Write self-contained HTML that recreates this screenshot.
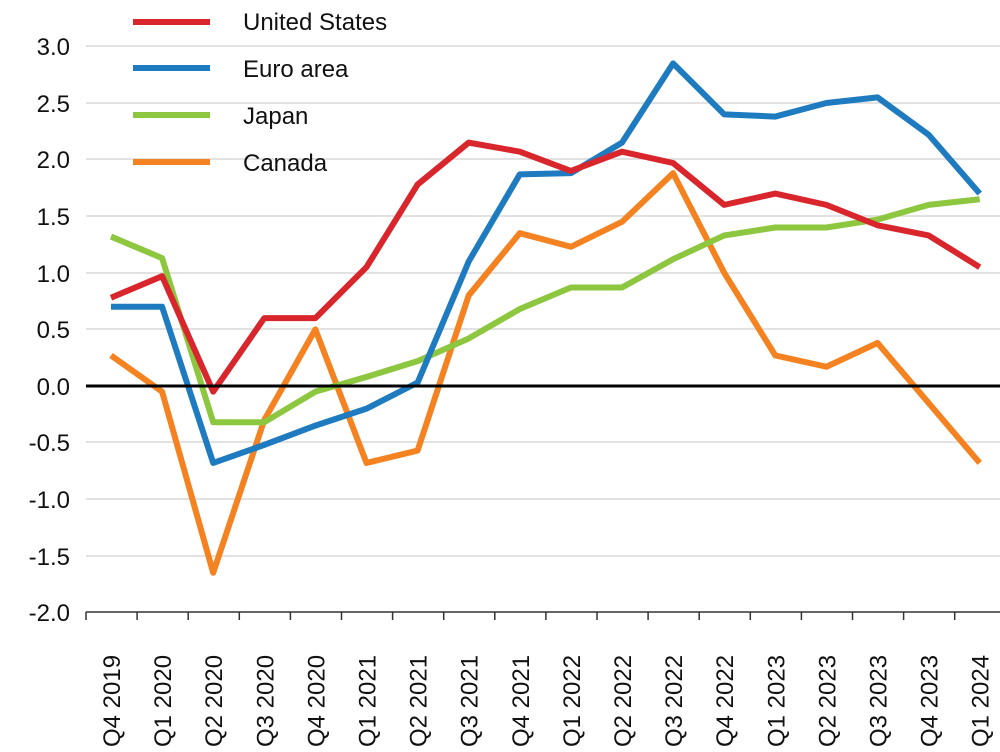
<!DOCTYPE html>
<html><head><style>body{margin:0;background:#fff}svg{display:block}text{font-family:"Liberation Sans",Arial,sans-serif;fill:#111}</style></head>
<body>
<svg id="c" width="1000" height="752" xmlns="http://www.w3.org/2000/svg">
<g stroke="#d9d9d9" stroke-width="1.5">
<line x1="86" x2="1000" y1="46" y2="46"/><line x1="86" x2="1000" y1="103" y2="103"/><line x1="86" x2="1000" y1="159" y2="159"/><line x1="86" x2="1000" y1="216" y2="216"/><line x1="86" x2="1000" y1="273" y2="273"/><line x1="86" x2="1000" y1="329" y2="329"/><line x1="86" x2="1000" y1="442" y2="442"/><line x1="86" x2="1000" y1="499" y2="499"/><line x1="86" x2="1000" y1="556" y2="556"/>
</g>
<line x1="86" x2="1000" y1="612" y2="612" stroke="#333" stroke-width="1.5"/>
<g font-size="24" text-anchor="end">
<text x="70" y="55">3.0</text><text x="70" y="112">2.5</text><text x="70" y="168">2.0</text><text x="70" y="225">1.5</text><text x="70" y="282">1.0</text><text x="70" y="338">0.5</text><text x="70" y="395">0.0</text><text x="70" y="451">-0.5</text><text x="70" y="508">-1.0</text><text x="70" y="565">-1.5</text><text x="70" y="621">-2.0</text>
</g>
<g id="ticks" stroke="#333" stroke-width="1.5"></g>
<g id="xl" font-size="24"></g>
<g id="series" fill="none" stroke-width="6" stroke-linejoin="round"></g>
<line x1="86" x2="1000" y1="386" y2="386" stroke="#000" stroke-width="3"/>
<g stroke-width="6">
<line x1="133" x2="210" y1="22" y2="22" stroke="#d9262c"/>
<line x1="133" x2="210" y1="68" y2="68" stroke="#1f7bbf"/>
<line x1="133" x2="210" y1="115" y2="115" stroke="#8dc63f"/>
<line x1="133" x2="210" y1="162" y2="162" stroke="#f58220"/>
</g>
<g font-size="24">
<text x="243" y="30">United States</text><text x="243" y="77">Euro area</text><text x="243" y="124">Japan</text><text x="243" y="171">Canada</text>
</g>
</svg>
<script>
var ns="http://www.w3.org/2000/svg";
function X(i){return 111+i*51.1}function Y(v){return 386-v*113.2}
var labs=["Q4 2019","Q1 2020","Q2 2020","Q3 2020","Q4 2020","Q1 2021","Q2 2021","Q3 2021","Q4 2021","Q1 2022","Q2 2022","Q3 2022","Q4 2022","Q1 2023","Q2 2023","Q3 2023","Q4 2023","Q1 2024"];
var t=document.getElementById("ticks"),xl=document.getElementById("xl");
for(var i=0;i<=18;i++){var l=document.createElementNS(ns,"line");var x=86+i*51.1;l.setAttribute("x1",x);l.setAttribute("x2",x);l.setAttribute("y1",612);l.setAttribute("y2",620);t.appendChild(l);}
labs.forEach(function(s,i){var e=document.createElementNS(ns,"text");e.setAttribute("transform","translate("+(X(i)+9)+",747) rotate(-90)");e.textContent=s;xl.appendChild(e);});
var S=[["#f58220",[0.27,-0.05,-1.65,-0.3,0.5,-0.68,-0.57,0.8,1.35,1.23,1.45,1.88,1.0,0.27,0.17,0.38,-0.15,-0.68]],
["#8dc63f",[1.32,1.13,-0.32,-0.32,-0.05,0.08,0.22,0.42,0.68,0.87,0.87,1.12,1.33,1.4,1.4,1.47,1.6,1.65]],
["#1f7bbf",[0.7,0.7,-0.68,-0.52,-0.35,-0.2,0.03,1.1,1.87,1.88,2.15,2.85,2.4,2.38,2.5,2.55,2.22,1.7]],
["#d9262c",[0.78,0.97,-0.05,0.6,0.6,1.05,1.78,2.15,2.07,1.9,2.07,1.97,1.6,1.7,1.6,1.42,1.33,1.05]]];
var g=document.getElementById("series");
S.forEach(function(s){var p=document.createElementNS(ns,"polyline");p.setAttribute("stroke",s[0]);p.setAttribute("points",s[1].map(function(v,i){return X(i)+","+Y(v)}).join(" "));g.appendChild(p);});
</script>
</body></html>
